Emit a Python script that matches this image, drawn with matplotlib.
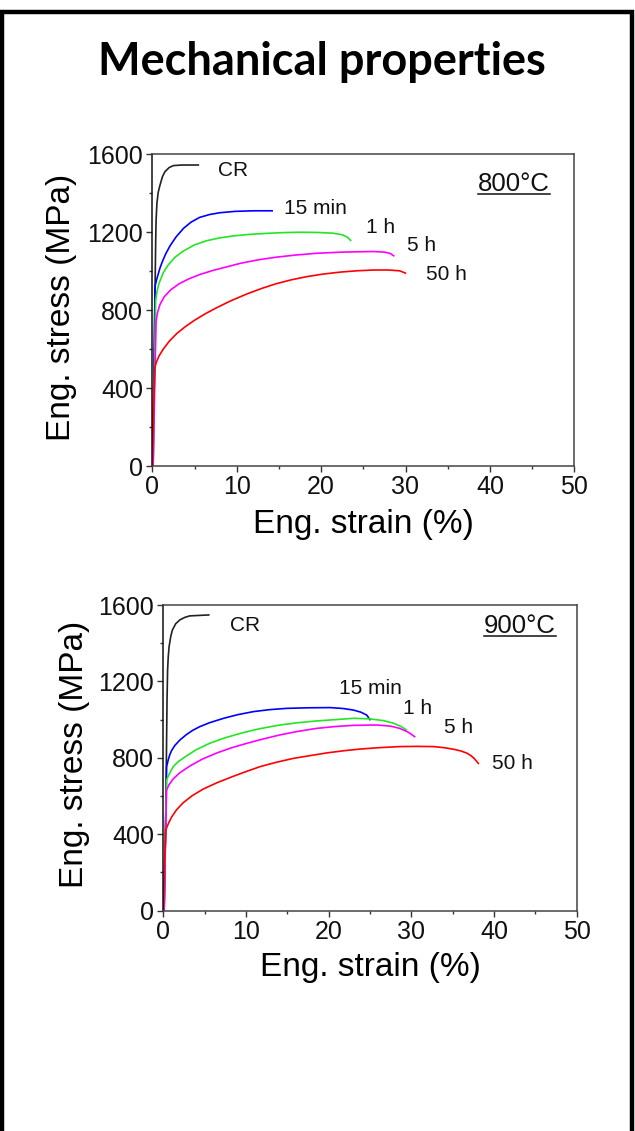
import matplotlib
matplotlib.use("Agg")
import matplotlib.pyplot as plt
from matplotlib.patches import Rectangle
from matplotlib.lines import Line2D
from matplotlib.ticker import MultipleLocator

plt.rcParams['font.family'] = ['Liberation Sans', 'DejaVu Sans']

# ---- 800 C, stress-strain curves (strain %, stress MPa)
s800_cr_x = [0.0, 0.2, 0.4, 0.45, 0.55, 0.7, 0.9, 1.2, 1.5, 2.0, 2.5, 3.5, 5.45]
s800_cr_y = [0, 500, 1150, 1263, 1350, 1405, 1440, 1485, 1511, 1532, 1542, 1545, 1545]
s800_15m_x = [0.1, 0.25, 0.32, 0.5, 0.7, 0.9, 1.2, 1.6, 2.1, 2.8, 3.7, 4.6, 5.6, 6.8, 8.0, 9.8, 12.0, 14.2]
s800_15m_y = [0, 600, 921, 955, 985, 1015, 1050, 1090, 1130, 1175, 1220, 1252, 1276, 1291, 1300, 1307, 1310, 1310]
s800_1h_x = [0.1, 0.3, 0.4, 0.55, 0.8, 1.3, 1.9, 2.7, 3.7, 5.0, 6.4, 8.0, 9.6, 11.5, 13.5, 15.5, 17.5, 19.5, 21.4, 22.5, 23.1, 23.5]
s800_1h_y = [0, 600, 850, 895, 938, 992, 1033, 1072, 1104, 1135, 1156, 1171, 1181, 1189, 1194, 1198, 1200, 1199, 1195, 1187, 1175, 1158]
s800_5h_x = [0.1, 0.3, 0.45, 0.6, 0.9, 1.4, 2.2, 3.2, 4.3, 5.7, 7.2, 8.8, 10.4, 12.5, 14.7, 17.0, 19.5, 22.5, 26.2, 27.5, 28.2, 28.6]
s800_5h_y = [0, 450, 740, 785, 828, 868, 905, 936, 960, 984, 1004, 1022, 1040, 1058, 1072, 1083, 1092, 1098, 1101, 1098, 1091, 1079]
s800_50h_x = [0.0, 0.15, 0.3, 0.5, 0.8, 1.3, 2.0, 2.9, 3.9, 5.0, 6.3, 7.6, 9.3, 11.2, 13.0, 14.7, 16.5, 18.3, 20.2, 22.2, 24.2, 26.2, 28.0, 29.3, 30.0]
s800_50h_y = [0, 300, 505, 535, 565, 600, 640, 680, 715, 748, 782, 812, 848, 883, 912, 936, 956, 972, 985, 995, 1002, 1006, 1006, 1002, 990]

# ---- 900 C
s900_cr_x = [0.1, 0.3, 0.45, 0.52, 0.6, 0.7, 0.9, 1.1, 1.5, 2.0, 2.6, 3.2, 5.5]
s900_cr_y = [0, 500, 1100, 1260, 1330, 1382, 1435, 1469, 1502, 1522, 1535, 1543, 1548]
s900_15m_x = [0.1, 0.3, 0.4, 0.6, 0.8, 1.0, 1.4, 2.0, 2.8, 3.6, 4.4, 5.6, 7.3, 9.0, 10.9, 12.8, 14.9, 17.5, 20.2, 21.8, 23.0, 23.9, 24.6, 25.0]
s900_15m_y = [0, 500, 754, 790, 818, 838, 865, 893, 922, 945, 963, 984, 1007, 1026, 1042, 1052, 1059, 1062, 1063, 1058, 1050, 1039, 1024, 1000]
s900_1h_x = [0.1, 0.3, 0.4, 0.6, 0.9, 1.2, 1.8, 2.8, 4.0, 5.6, 7.4, 9.3, 11.6, 14.1, 16.3, 18.5, 20.8, 23.0, 25.0, 26.6, 27.8, 28.8, 29.4]
s900_1h_y = [0, 500, 684, 705, 730, 754, 780, 810, 843, 876, 904, 928, 952, 972, 984, 993, 1000, 1007, 1004, 995, 982, 963, 946]
s900_5h_x = [0.1, 0.3, 0.4, 0.7, 1.2, 2.0, 3.2, 4.7, 6.5, 8.2, 10.1, 12.0, 14.1, 16.2, 18.5, 20.8, 23.0, 25.8, 27.5, 28.6, 29.6, 30.4]
s900_5h_y = [0, 450, 632, 660, 690, 722, 757, 793, 826, 852, 876, 898, 920, 938, 954, 964, 970, 972, 966, 954, 935, 911]
s900_50h_x = [0.0, 0.15, 0.3, 0.6, 1.0, 1.6, 2.4, 3.5, 4.8, 6.5, 8.5, 10.0, 11.7, 13.6, 15.7, 17.8, 19.8, 21.8, 23.8, 26.0, 28.6, 30.7, 32.7, 34.0, 35.1, 36.0, 36.7, 37.2, 37.6, 38.1]
s900_50h_y = [0, 250, 422, 455, 490, 528, 565, 602, 636, 670, 704, 728, 754, 776, 797, 812, 826, 837, 846, 853, 859, 860, 859, 853, 845, 836, 825, 812, 797, 771]

series_labels = ["CR", "15 min", "1 h", "5 h", "50 h"]
series_colors = ["#222222", "#0000ff", "#22e622", "#ff00ff", "#ff0000"]

# label anchors (strain, stress)
lab800_x = [7.8, 15.6, 25.3, 30.2, 32.4]
lab800_y = [1515, 1320, 1226, 1130, 981]
lab900_x = [8.1, 21.2, 29.0, 33.9, 39.7]
lab900_y = [1495, 1164, 1059, 960, 768]

W, H = 635, 1131
fig = plt.figure(figsize=(W / 100, H / 100), dpi=100)

fig.add_artist(Rectangle((2 / W, -0.05), 629.5 / W, 1.05 - 11.5 / H,
                         transform=fig.transFigure, fill=False,
                         edgecolor="black", linewidth=3.2, clip_on=False))

fig.text(321.5 / W, 1 - 75 / H, "Mechanical properties", ha="center",
         va="baseline", fontsize=32.5, fontweight="bold", family=["Lato", "DejaVu Sans"])


def make_panel(rect, curves, lab_x, lab_y, temp, temp_xy, xl_y, yl_x):
    ax = fig.add_axes(rect)
    for (xs, ys), c in zip(curves, series_colors):
        ax.plot(xs, ys, color=c, lw=1.2)
    for name, x, y in zip(series_labels, lab_x, lab_y):
        ax.text(x, y, name, fontsize=15, color="#111", ha="left", va="center")
    t = ax.text(temp_xy[0], temp_xy[1], temp, fontsize=18.5, color="#111",
                ha="left", va="baseline")
    ax.set_xlim(0, 50)
    ax.set_ylim(0, 1600)
    ax.xaxis.set_major_locator(MultipleLocator(10))
    ax.xaxis.set_minor_locator(MultipleLocator(5))
    ax.yaxis.set_major_locator(MultipleLocator(400))
    ax.yaxis.set_minor_locator(MultipleLocator(200))
    ax.tick_params(which="major", length=4.5, width=1, direction="out",
                   labelsize=18, pad=2, colors="#333", labelcolor="#111")
    ax.tick_params(which="minor", length=2.5, width=1, direction="out", colors="#333")
    for sp in ax.spines.values():
        sp.set_color("#444")
        sp.set_linewidth(1.1)
    ax.spines["left"].set_color("#111")
    ax.set_xlabel("Eng. strain (%)", fontsize=24, va="center")
    ax.set_ylabel("Eng. stress (MPa)", fontsize=24, va="center")
    ax.xaxis.set_label_coords(0.5, xl_y)
    ax.yaxis.set_label_coords(yl_x, 0.51)
    return ax, t


def underline(ax, t):
    fig.canvas.draw()
    bb = t.get_window_extent(fig.canvas.get_renderer())
    x0, y0 = t.get_position()
    base = ax.transData.transform((x0, y0))[1] - 3
    inv = ax.transAxes.inverted()
    p0 = inv.transform((bb.x0, base))
    p1 = inv.transform((bb.x1, base))
    ax.add_line(Line2D([p0[0], p1[0]], [p0[1], p1[1]], transform=ax.transAxes,
                       color="#111", lw=1.1))


curves800 = [(s800_cr_x, s800_cr_y), (s800_15m_x, s800_15m_y), (s800_1h_x, s800_1h_y),
             (s800_5h_x, s800_5h_y), (s800_50h_x, s800_50h_y)]
curves900 = [(s900_cr_x, s900_cr_y), (s900_15m_x, s900_15m_y), (s900_1h_x, s900_1h_y),
             (s900_5h_x, s900_5h_y), (s900_50h_x, s900_50h_y)]

ax1, t1 = make_panel([152.3 / W, 1 - 466 / H, 422 / W, 311.7 / H], curves800,
                     lab800_x, lab800_y, "800°C", (38.6, 1410), -0.189, -0.214)
ax2, t2 = make_panel([163.3 / W, 1 - 910.7 / H, 413.4 / W, 305.7 / H], curves900,
                     lab900_x, lab900_y, "900°C", (38.8, 1452), -0.187, -0.2136)
underline(ax1, t1)
underline(ax2, t2)

fig.savefig("out.png", dpi=100)
